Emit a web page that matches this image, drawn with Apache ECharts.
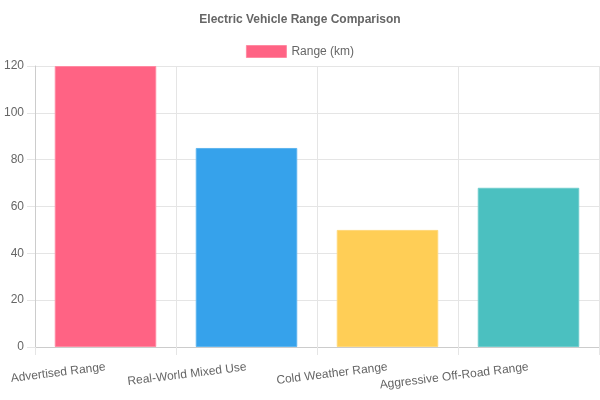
<!DOCTYPE html>
<html>
<head>
<meta charset="utf-8">
<script src="https://cdn.jsdelivr.net/npm/echarts@6/dist/echarts.min.js"></script>
<style>
  html, body { margin: 0; padding: 0; background: #fff; }
  #chart { width: 600px; height: 400px; }
</style>
</head>
<body>
<div id="chart"></div>
<script>
// data
const categories = ['Advertised Range', 'Real-World Mixed Use', 'Cold Weather Range', 'Aggressive Off-Road Range']
const rangeKm = [120, 85, 50, 68]
const barColors = ['#FF6384', '#36A2EB', '#FFCE56', '#4BC0C0']
const borderColors = ['#ff8aa2', '#5eb5ef', '#ffd878', '#6fcdcd']
const yTicks = { min: 0, max: 120, interval: 20 }

const gridColor = '#e5e5e5'
const textColor = '#666'

const chart = echarts.init(document.getElementById('chart'))

chart.setOption({
  animation: false,
  textStyle: { fontFamily: 'Liberation Sans, Arial, sans-serif' },
  title: {
    text: 'Electric Vehicle Range Comparison',
    left: 'center',
    top: 9,
    textStyle: { fontSize: 12, fontWeight: 'bold', color: textColor }
  },
  legend: {
    top: 40,
    left: 'center',
    icon: 'rect',
    itemWidth: 40,
    itemHeight: 12,
    itemGap: 10,
    textStyle: { fontSize: 12, color: textColor },
    data: [{ name: 'Range (km)', itemStyle: { color: barColors[0], borderColor: borderColors[0], borderWidth: 1 } }]
  },
  grid: { left: 35, right: 1, top: 66, bottom: 53, outerBoundsMode: 'none', containLabel: false },
  xAxis: {
    type: 'category',
    data: categories,
    axisLine: { lineStyle: { color: '#ccc' } },
    axisTick: { show: true, length: 8, lineStyle: { color: gridColor } },
    splitLine: { show: true, lineStyle: { color: gridColor } },
    axisLabel: {
      rotate: 7,
      margin: 20,
      interval: 0,
      hideOverlap: false,
      color: textColor,
      fontSize: 12
    }
  },
  yAxis: {
    type: 'value',
    min: yTicks.min,
    max: yTicks.max,
    interval: yTicks.interval,
    axisLine: { show: true, lineStyle: { color: '#ccc' } },
    axisTick: { show: true, length: 8, lineStyle: { color: gridColor } },
    splitLine: { lineStyle: { color: gridColor } },
    axisLabel: { color: textColor, fontSize: 12, margin: 11 }
  },
  series: [{
    name: 'Range (km)',
    type: 'bar',
    barCategoryGap: '28%',
    data: rangeKm.map((v, i) => ({
      value: v,
      itemStyle: { color: barColors[i], borderColor: borderColors[i], borderWidth: 1 }
    }))
  }]
})
</script>
</body>
</html>
